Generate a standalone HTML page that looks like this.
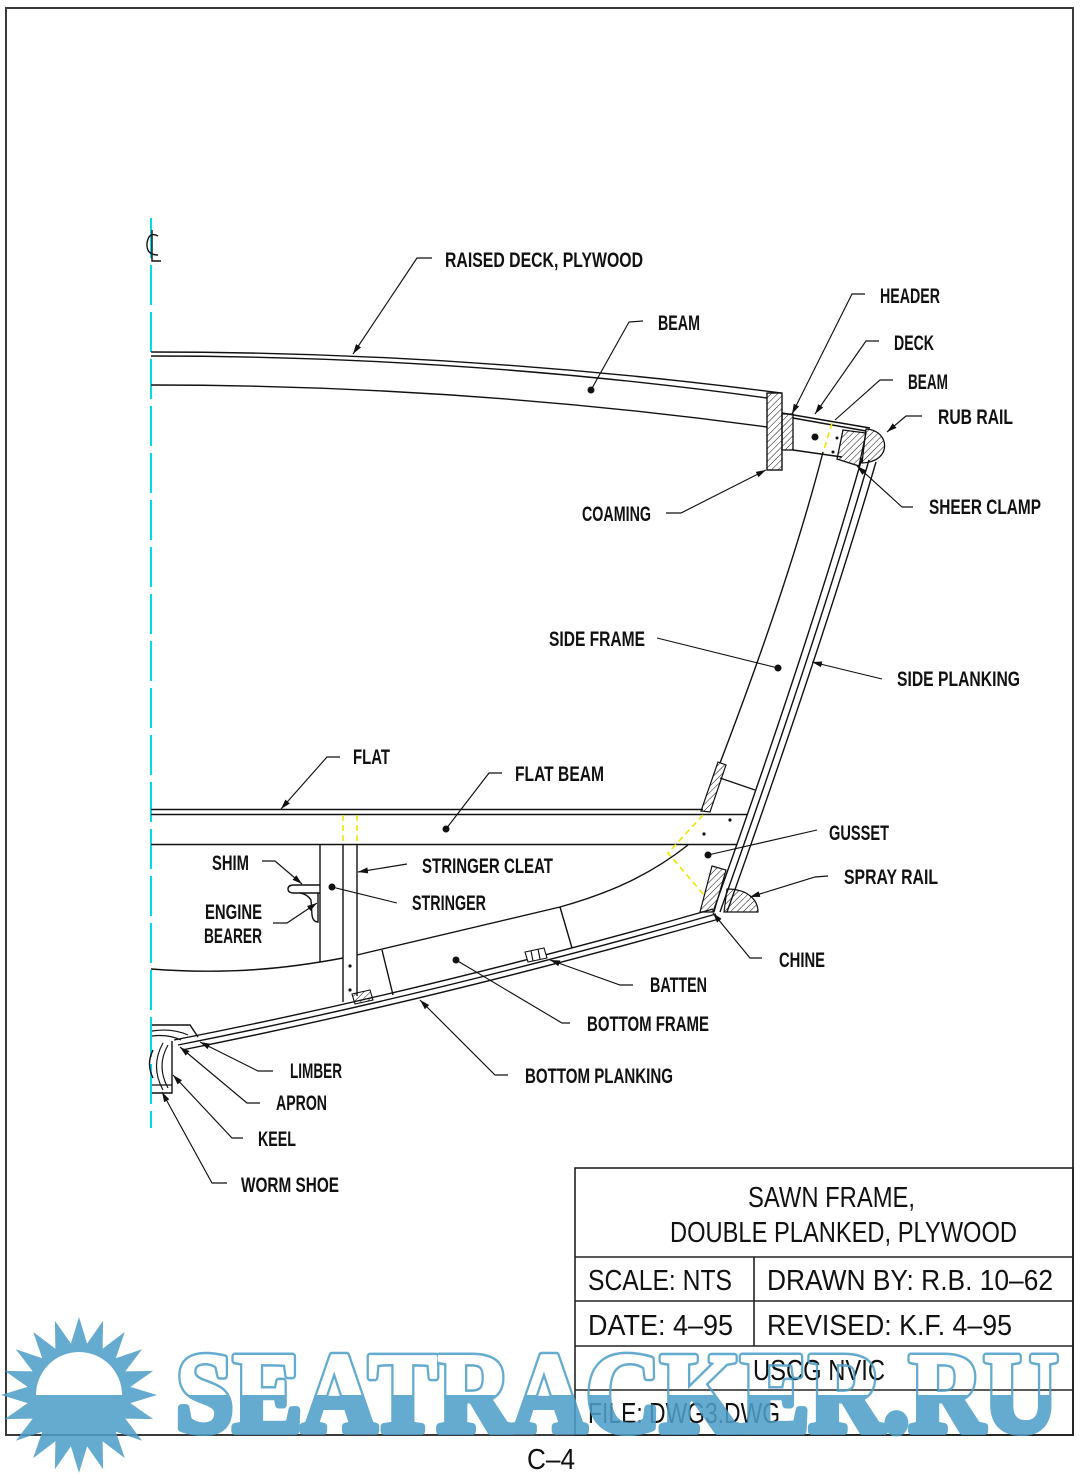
<!DOCTYPE html>
<html><head><meta charset="utf-8"><style>
html,body{margin:0;padding:0;background:#fff;}
svg{display:block;}
.l{font-family:"Liberation Sans",Arial,sans-serif;font-weight:bold;font-size:21px;fill:#111;}
.t{font-family:"Liberation Sans",Arial,sans-serif;font-size:29px;fill:#111;}
.k{fill:none;stroke:#111;stroke-width:1.4;}
.d{fill:none;stroke:#111;stroke-width:1.15;}
.y{fill:none;stroke:#f2e600;stroke-width:1.6;stroke-dasharray:6 4;}
</style></head><body>
<svg width="1080" height="1474" viewBox="0 0 1080 1474" xmlns="http://www.w3.org/2000/svg">
<defs>
<pattern id="h" patternUnits="userSpaceOnUse" width="4.5" height="4.5" patternTransform="rotate(45)">
<line x1="0" y1="0" x2="0" y2="4.5" stroke="#111" stroke-width="1"/></pattern>
<marker id="a" markerUnits="userSpaceOnUse" markerWidth="11" markerHeight="7" refX="10" refY="3.5" orient="auto">
<path d="M0,0.5 L10,3.5 L0,6.5 z" fill="#111"/></marker>
<clipPath id="top"><rect x="0" y="1330" width="1080" height="65"/></clipPath>
<clipPath id="bot"><rect x="0" y="1395" width="1080" height="79"/></clipPath>
<mask id="ring" maskUnits="userSpaceOnUse" x="0" y="1300" width="1080" height="174">
<text x="176" y="1431" textLength="882" lengthAdjust="spacingAndGlyphs" style="font-family:'Liberation Serif',serif;font-weight:bold;font-size:113px" fill="#fff" stroke="#fff" stroke-width="8" stroke-linejoin="round">SEATRACKER.RU</text>
<text x="176" y="1431" textLength="882" lengthAdjust="spacingAndGlyphs" style="font-family:'Liberation Serif',serif;font-weight:bold;font-size:113px" fill="#000" stroke="#000" stroke-width="3" stroke-linejoin="round">SEATRACKER.RU</text>
</mask>
</defs>

<!-- border -->
<rect x="6" y="8" width="1067" height="1427" fill="none" stroke="#3a3a3a" stroke-width="2"/>

<!-- centerline -->
<line x1="151" y1="218" x2="151" y2="1128" stroke="#00dcef" stroke-width="2" stroke-dasharray="40 7"/>
<path d="M158,236 Q149,231 147,243 Q146,255 158,255" class="k" stroke-width="2"/>
<path d="M152,230 L152,261 L161,261" class="k" stroke-width="2"/>

<!-- raised deck & beam -->
<path class="k" d="M151,352 Q465,352 781,393"/>
<path class="k" d="M151,356 Q462,356 767,398"/>
<path class="k" d="M151,385 Q458,385 767,427"/>
<rect x="767" y="393" width="15" height="77" fill="url(#h)" stroke="#111" stroke-width="1.4"/>
<!-- header / side deck beam -->
<rect x="782" y="414" width="11" height="36" fill="url(#h)" stroke="#111" stroke-width="1.3"/>
<path class="k" d="M782,413 L870,428"/>
<path class="k" d="M793,418 L866,431"/>
<path class="k" d="M793,450 L842,457"/>
<polygon points="843,430 866,433 859,466 837,459" fill="url(#h)" stroke="#111" stroke-width="1.3"/>
<path d="M866,429 C890,430 893,462 862,463 Z" fill="url(#h)" stroke="#111" stroke-width="1.3"/>
<line class="y" x1="832" y1="423" x2="823" y2="453"/>
<circle cx="815" cy="437" r="3.5" fill="#111"/>
<circle cx="837" cy="438" r="1.5" fill="#111"/>
<circle cx="833" cy="452" r="1.5" fill="#111"/>

<!-- side planking -->
<path class="k" d="M862,458 Q810,640 713,912"/>
<path class="k" d="M869,460 Q817,640 720,912"/>
<path class="k" d="M876,462 Q824,640 727,912"/>
<!-- side frame -->
<path class="k" d="M823,452 Q790,580 720,763"/>
<polygon points="718,762 726,765 710,812 701,811" fill="url(#h)" stroke="#111" stroke-width="1.2"/>
<line class="k" x1="720" y1="778" x2="755" y2="790"/>

<!-- flat & flat beam -->
<line class="k" x1="151" y1="809.5" x2="703" y2="809.5"/>
<line class="k" x1="151" y1="814.5" x2="747" y2="814.5"/>
<line class="k" x1="151" y1="844.5" x2="737" y2="844.5"/>
<line class="y" x1="343" y1="815" x2="343" y2="844"/>
<line class="y" x1="357" y1="815" x2="357" y2="844"/>
<circle cx="730" cy="820" r="1.6" fill="#111"/>
<circle cx="704" cy="834" r="1.6" fill="#111"/>
<polyline class="y" points="703,815 668,853 704,895"/>

<!-- chine cleat & spray rail -->
<polygon points="712,866 726,870 714,912 700,912" fill="url(#h)" stroke="#111" stroke-width="1.2"/>
<path d="M727,889 C748,889 758,900 758,912 L724,912 Z" fill="url(#h)" stroke="#111" stroke-width="1.2"/>

<!-- bottom frame -->
<path class="k" d="M151,969 C230,975 290,968 343,958"/>
<path class="k" d="M357,955 L560,907 C610,893 650,875 688,845"/>
<line class="k" x1="382" y1="950" x2="393" y2="995"/>
<line class="k" x1="560" y1="907" x2="572" y2="948"/>

<!-- bottom planking -->
<path class="k" d="M713,909 Q430,990 174,1040"/>
<path class="k" d="M716,914 Q432,995 178,1045"/>
<path class="k" d="M719,919 Q434,1000 182,1050"/>

<!-- stringer -->
<line class="k" x1="343" y1="844" x2="343" y2="1002"/>
<line class="k" x1="357" y1="844" x2="357" y2="996"/>
<circle cx="350" cy="966" r="1.6" fill="#111"/>
<circle cx="350" cy="990" r="1.6" fill="#111"/>
<polygon points="352,994 370,990 373,1000 355,1004" fill="url(#h)" stroke="#111" stroke-width="1.1"/>
<!-- batten -->
<polygon points="525,952 544,948 547,958 528,962" fill="#fff" stroke="#111" stroke-width="1.1"/>
<line class="d" x1="531" y1="951" x2="533" y2="961"/>
<line class="d" x1="538" y1="949" x2="540" y2="959"/>

<!-- engine bearer -->
<line class="k" x1="320" y1="844" x2="320" y2="962"/>
<path class="k" d="M320,885 L294,885 Q288,885 288,889 Q288,893 294,893 L320,893"/>
<path class="k" d="M318,893 L318,922 Q313,922 312,915 L311,900 Q307,894 300,893"/>

<!-- keel / apron / worm shoe -->
<path class="k" d="M152,1025 L190,1025 L198,1037"/>
<path class="d" d="M152,1031 Q172,1028 188,1035"/>
<path class="d" d="M152,1036 Q168,1034 181,1040"/>
<path class="k" d="M172,1041 L172,1093 L152,1093"/>
<path class="d" d="M168,1045 Q156,1066 168,1088"/>
<path class="d" d="M163,1043 Q150,1066 163,1090"/>
<path class="k" d="M153,1050 Q146,1064 153,1078"/>
<line class="d" x1="152" y1="1085" x2="172" y2="1085"/>

<!-- leaders -->
<g class="d">
<path d="M432,258 L417,258 L353,354" marker-end="url(#a)"/>
<path d="M643,321 L629,322 L591,390"/>
<path d="M865,294 L852,294 L792,414" marker-end="url(#a)"/>
<path d="M879,341 L866,341 L815,414" marker-end="url(#a)"/>
<path d="M893,380 L880,380 L835,420"/>
<path d="M922,416 L906,416 L887,432" marker-end="url(#a)"/>
<path d="M913,507 L902,507 L857,466" marker-end="url(#a)"/>
<path d="M666,513 L681,513 L766,470" marker-end="url(#a)"/>
<path d="M657,638 L778,668"/>
<path d="M882,679 L812,662" marker-end="url(#a)"/>
<path d="M340,757 L327,757 L281,809" marker-end="url(#a)"/>
<path d="M502,773 L489,773 L446,829"/>
<path d="M817,830 L708,855"/>
<path d="M262,861 L275,861 L302,884" marker-end="url(#a)"/>
<path d="M407,864 L358,872" marker-end="url(#a)"/>
<path d="M828,876 L815,877 L750,897" marker-end="url(#a)"/>
<path d="M273,923 L287,923 L317,903" marker-end="url(#a)"/>
<path d="M397,903 L332,887"/>
<path d="M762,958 L750,958 L713,913" marker-end="url(#a)"/>
<path d="M633,985 L620,985 L550,960" marker-end="url(#a)"/>
<path d="M570,1023 L562,1023 L456,960"/>
<path d="M273,1071 L258,1071 L200,1042" marker-end="url(#a)"/>
<path d="M508,1075 L495,1075 L420,1000" marker-end="url(#a)"/>
<path d="M260,1103 L247,1103 L180,1047" marker-end="url(#a)"/>
<path d="M243,1138 L232,1138 L173,1075" marker-end="url(#a)"/>
<path d="M227,1183 L212,1183 L162,1092" marker-end="url(#a)"/>
</g>
<g fill="#111">
<circle cx="591" cy="390" r="3.5"/>
<circle cx="778" cy="668" r="3.5"/>
<circle cx="446" cy="829" r="3.5"/>
<circle cx="708" cy="855" r="3.5"/>
<circle cx="332" cy="887" r="3.5"/>
<circle cx="456" cy="960" r="3.5"/>
</g>

<!-- labels -->
<g class="l">
<text x="445" y="267" textLength="198" lengthAdjust="spacingAndGlyphs">RAISED DECK, PLYWOOD</text>
<text x="658" y="330" textLength="42" lengthAdjust="spacingAndGlyphs">BEAM</text>
<text x="880" y="303" textLength="60" lengthAdjust="spacingAndGlyphs">HEADER</text>
<text x="894" y="350" textLength="40" lengthAdjust="spacingAndGlyphs">DECK</text>
<text x="908" y="389" textLength="40" lengthAdjust="spacingAndGlyphs">BEAM</text>
<text x="938" y="424" textLength="75" lengthAdjust="spacingAndGlyphs">RUB RAIL</text>
<text x="929" y="514" textLength="112" lengthAdjust="spacingAndGlyphs">SHEER CLAMP</text>
<text x="582" y="521" textLength="69" lengthAdjust="spacingAndGlyphs">COAMING</text>
<text x="549" y="646" textLength="96" lengthAdjust="spacingAndGlyphs">SIDE FRAME</text>
<text x="897" y="686" textLength="123" lengthAdjust="spacingAndGlyphs">SIDE PLANKING</text>
<text x="353" y="764" textLength="37" lengthAdjust="spacingAndGlyphs">FLAT</text>
<text x="515" y="781" textLength="89" lengthAdjust="spacingAndGlyphs">FLAT BEAM</text>
<text x="829" y="840" textLength="60" lengthAdjust="spacingAndGlyphs">GUSSET</text>
<text x="212" y="870" textLength="37" lengthAdjust="spacingAndGlyphs">SHIM</text>
<text x="422" y="873" textLength="131" lengthAdjust="spacingAndGlyphs">STRINGER CLEAT</text>
<text x="844" y="884" textLength="94" lengthAdjust="spacingAndGlyphs">SPRAY RAIL</text>
<text x="205" y="919" textLength="57" lengthAdjust="spacingAndGlyphs">ENGINE</text>
<text x="204" y="943" textLength="58" lengthAdjust="spacingAndGlyphs">BEARER</text>
<text x="412" y="910" textLength="74" lengthAdjust="spacingAndGlyphs">STRINGER</text>
<text x="779" y="967" textLength="46" lengthAdjust="spacingAndGlyphs">CHINE</text>
<text x="650" y="992" textLength="57" lengthAdjust="spacingAndGlyphs">BATTEN</text>
<text x="587" y="1031" textLength="122" lengthAdjust="spacingAndGlyphs">BOTTOM FRAME</text>
<text x="290" y="1078" textLength="52" lengthAdjust="spacingAndGlyphs">LIMBER</text>
<text x="525" y="1083" textLength="148" lengthAdjust="spacingAndGlyphs">BOTTOM PLANKING</text>
<text x="276" y="1110" textLength="51" lengthAdjust="spacingAndGlyphs">APRON</text>
<text x="258" y="1146" textLength="38" lengthAdjust="spacingAndGlyphs">KEEL</text>
<text x="241" y="1192" textLength="98" lengthAdjust="spacingAndGlyphs">WORM SHOE</text>
</g>

<!-- title block -->
<g fill="none" stroke="#222" stroke-width="1.6">
<rect x="575" y="1168" width="498" height="267"/>
<line x1="575" y1="1257" x2="1073" y2="1257"/>
<line x1="575" y1="1301" x2="1073" y2="1301"/>
<line x1="575" y1="1346" x2="1073" y2="1346"/>
<line x1="575" y1="1390" x2="1073" y2="1390"/>
<line x1="754" y1="1257" x2="754" y2="1346"/>
</g>
<g class="t">
<text x="748" y="1207" textLength="167" lengthAdjust="spacingAndGlyphs">SAWN FRAME,</text>
<text x="670" y="1242" textLength="347" lengthAdjust="spacingAndGlyphs">DOUBLE PLANKED, PLYWOOD</text>
<text x="588" y="1290" textLength="144" lengthAdjust="spacingAndGlyphs">SCALE: NTS</text>
<text x="767" y="1290" textLength="286" lengthAdjust="spacingAndGlyphs">DRAWN BY: R.B. 10–62</text>
<text x="588" y="1335" textLength="145" lengthAdjust="spacingAndGlyphs">DATE: 4–95</text>
<text x="767" y="1335" textLength="245" lengthAdjust="spacingAndGlyphs">REVISED: K.F. 4–95</text>
<text x="753" y="1380" textLength="132" lengthAdjust="spacingAndGlyphs">USCG NVIC</text>
<text x="588" y="1423" textLength="192" lengthAdjust="spacingAndGlyphs">FILE: DWG3.DWG</text>
<text x="527" y="1469" textLength="48" lengthAdjust="spacingAndGlyphs">C–4</text>
</g>

<!-- watermark -->
<g opacity="0.87">
<polygon fill="#4f9fc8" points="79,1317 87.1,1343.6 103.1,1320.8 102.6,1348.7 124.8,1331.9 115.8,1358.2 142.1,1349.2 125.3,1371.4 153.2,1370.9 130.4,1386.9 157,1395 130.4,1403.1 153.2,1419.1 125.3,1418.6 142.1,1440.8 115.8,1431.8 124.8,1458.1 102.6,1441.3 103.1,1469.2 87.1,1446.4 79,1473 70.9,1446.4 54.9,1469.2 55.4,1441.3 33.2,1458.1 42.2,1431.8 15.9,1440.8 32.7,1418.6 4.8,1419.1 27.6,1403.1 1,1395 27.6,1386.9 4.8,1370.9 32.7,1371.4 15.9,1349.2 42.2,1358.2 33.2,1331.9 55.4,1348.7 54.9,1320.8 70.9,1343.6"/>
<path d="M36,1395 A43,43 0 0 1 122,1395 Z" fill="#fff"/>
<rect x="0" y="1330" width="1080" height="65" fill="#4f9fc8" mask="url(#ring)"/>
<g clip-path="url(#bot)">
<text x="176" y="1431" textLength="882" lengthAdjust="spacingAndGlyphs" style="font-family:'Liberation Serif',serif;font-weight:bold;font-size:113px" fill="#4f9fc8" stroke="#4f9fc8" stroke-width="8" stroke-linejoin="round">SEATRACKER.RU</text>
</g>
</g>
</svg>
</body></html>
